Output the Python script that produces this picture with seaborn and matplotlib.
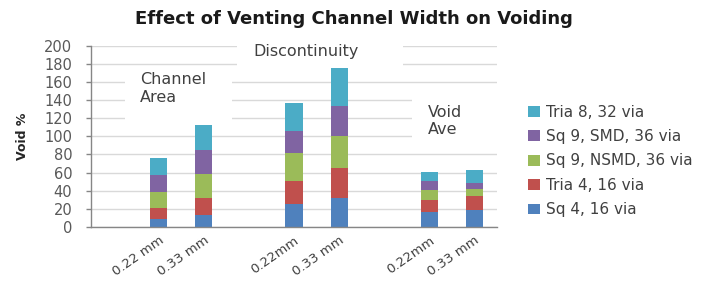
import matplotlib
matplotlib.use('Agg')
import matplotlib.pyplot as plt
import seaborn as sns
from matplotlib.patches import Rectangle

# 9 category slots (Excel-style, with blank slots holding the group captions)
slot_ids = ['s0', 's1', 's2', 's3', 's4', 's5', 's6', 's7', 's8']
tick_labels = ['', '0.22 mm', '0.33 mm', '', '0.22mm', '0.33 mm', '', '0.22mm', '0.33 mm']

# stacked segments, bottom to top
sq4 = [0, 9.3, 13.7, 0, 25.9, 32.2, 0, 16.7, 19.0]
tria4 = [0, 11.4, 18.2, 0, 25.2, 33.4, 0, 13.0, 14.7]
sq9_nsmd = [0, 18.2, 27.0, 0, 30.8, 34.4, 0, 11.3, 8.3]
sq9_smd = [0, 18.5, 26.3, 0, 23.7, 33.3, 0, 9.3, 6.3]
tria8 = [0, 18.9, 27.5, 0, 30.7, 42.3, 0, 10.4, 14.7]

series_names = ['Sq 4, 16 via', 'Tria 4, 16 via', 'Sq 9, NSMD, 36 via', 'Sq 9, SMD, 36 via', 'Tria 8, 32 via']
series_vals = [sq4, tria4, sq9_nsmd, sq9_smd, tria8]
colors = ['#4F81BD', '#C0504D', '#9BBB59', '#8064A2', '#4BACC6']

sns.set_style('white')
plt.rcParams['font.family'] = ['DejaVu Sans']

fig = plt.figure(figsize=(7.03, 2.82), dpi=100)
ax = fig.add_axes([91 / 703, 1 - 227 / 282, 406 / 703, (227 - 45.7) / 282])

# cumulative heights, drawn tallest first so shorter ones sit on top
cums = []
run = [0] * len(slot_ids)
for vals in series_vals:
    run = [a + b for a, b in zip(run, vals)]
    cums.append(run)

for i in reversed(range(len(series_vals))):
    sns.barplot(x=slot_ids, y=cums[i], order=slot_ids, color=colors[i],
                saturation=1, width=0.38, linewidth=0, errorbar=None,
                label=series_names[i], ax=ax, zorder=2)

ax.set_ylim(0, 200)
ax.set_xlim(-0.5, 8.5)
ax.set_yticks(range(0, 201, 20))
ax.yaxis.grid(True, color='#D9D9D9', linewidth=1)
ax.set_axisbelow(True)

for s in ['top', 'right']:
    ax.spines[s].set_visible(False)
for s in ['left', 'bottom']:
    ax.spines[s].set_color('#868686')
    ax.spines[s].set_linewidth(1)

ax.set_xticks(range(9))
ax.set_xticklabels(tick_labels, rotation=35, ha='right', rotation_mode='anchor',
                   fontsize=9.5, color='#404040')
ax.set_xticks([x - 0.5 for x in range(10)], minor=True)
ax.tick_params(axis='x', which='major', length=0, pad=5)
ax.tick_params(axis='x', which='minor', length=4, color='#868686', width=1, direction='out')
ax.tick_params(axis='y', length=3.5, color='#868686', width=1, direction='out', pad=10,
               labelsize=10.5, labelcolor='#595959', left=True)
ax.set_xlabel('')
ax.set_ylabel('Void %', fontweight='bold', fontsize=9, labelpad=11)

# white caption boxes that hide the gridlines
boxes = [(0.25, 110, 2.38, 61), (2.74, 170, 3.68, 35), (6.62, 88, 2.0, 63)]
for bx, by, bw, bh in boxes:
    ax.add_patch(Rectangle((bx, by), bw, bh, facecolor='white', edgecolor='none', zorder=1.5))

ax.text(0.59, 153, 'Channel\nArea', fontsize=11.5, color='#404040', va='center', ha='left', zorder=3)
ax.text(3.09, 194, 'Discontinuity', fontsize=11.5, color='#404040', va='center', ha='left', zorder=3)
ax.text(6.97, 117, 'Void\nAve', fontsize=11.5, color='#404040', va='center', ha='left', zorder=3)

fig.text(0.503, 1 - 19 / 282, 'Effect of Venting Channel Width on Voiding',
         ha='center', va='center', fontsize=13, fontweight='bold', color='#1a1a1a')

leg = ax.legend(loc='center left', bbox_to_anchor=(528 / 703, 1 - 161 / 282),
                bbox_transform=fig.transFigure, frameon=False, fontsize=11,
                handlelength=0.8, handleheight=0.7, handletextpad=0.4,
                labelspacing=0.62, borderpad=0, borderaxespad=0)
for t in leg.get_texts():
    t.set_color('#404040')

plt.savefig('out.png', dpi=100)
